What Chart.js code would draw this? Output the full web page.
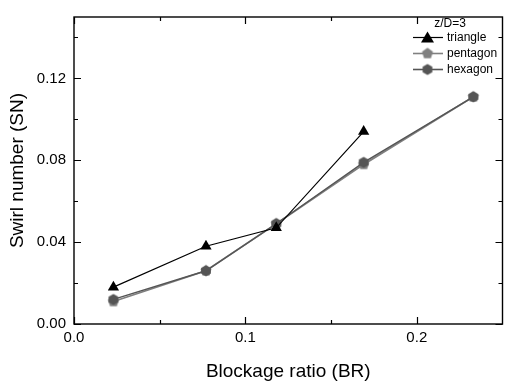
<!DOCTYPE html>
<html><head><meta charset="utf-8">
<script src="https://cdn.jsdelivr.net/npm/chart.js@4/dist/chart.umd.min.js"></script>
<style>html,body{margin:0;padding:0;background:#fff;}#wrap{width:509px;height:383px;}</style>
</head><body><div id="wrap"><canvas id="c" width="509" height="383"></canvas></div>
<script>
// Data
const triangleBR = [0.023, 0.077, 0.118, 0.169];
const triangleSN = [0.018, 0.038, 0.047, 0.094];
const pentagonBR = [0.023, 0.077, 0.118, 0.169, 0.233];
const pentagonSN = [0.011, 0.026, 0.049, 0.078, 0.111];
const hexagonBR = [0.023, 0.077, 0.118, 0.169, 0.233];
const hexagonSN = [0.012, 0.026, 0.049, 0.079, 0.111];
const xTicks = [0, 0.1, 0.2];
const xMinor = [0.05, 0.15];
const yTicks = [0, 0.04, 0.08, 0.12];
const yMinor = [0.02, 0.06, 0.10, 0.14];
const legendTitle = 'z/D=3';
const seriesNames = ['triangle', 'pentagon', 'hexagon'];

const FONT = '"Liberation Sans", Arial, sans-serif';
const colTri = '#000000', colPen = '#808080', colHex = '#555555';

function polyCanvas(n, r, color, rot) {
  const s = Math.ceil(r * 2 + 2);
  const cv = document.createElement('canvas');
  cv.width = s; cv.height = s;
  const g = cv.getContext('2d');
  g.fillStyle = color;
  g.beginPath();
  for (let i = 0; i < n; i++) {
    const a = rot + i * 2 * Math.PI / n;
    const px = s / 2 + r * Math.cos(a), py = s / 2 + r * Math.sin(a);
    i ? g.lineTo(px, py) : g.moveTo(px, py);
  }
  g.closePath(); g.fill();
  return cv;
}
const penImg = polyCanvas(5, 5.8, colPen, -Math.PI / 2);
const hexImg = polyCanvas(6, 5.6, colHex, -Math.PI / 2);

function pts(xs, ys) { return xs.map((x, i) => ({x: x, y: ys[i]})); }

function drawMarker(ctx, kind, x, y) {
  if (kind === 0) {
    ctx.fillStyle = colTri;
    ctx.beginPath();
    ctx.moveTo(x, y - 6); ctx.lineTo(x + 6.5, y + 5); ctx.lineTo(x - 6.5, y + 5);
    ctx.closePath(); ctx.fill();
  } else {
    const img = kind === 1 ? penImg : hexImg;
    ctx.drawImage(img, x - img.width / 2, y - img.height / 2);
  }
}

const framePlugin = {
  id: 'frame',
  afterDatasetsDraw(chart) {
    const ctx = chart.ctx, a = chart.chartArea;
    const xs = chart.scales.x, ys = chart.scales.y;
    ctx.save();
    ctx.strokeStyle = '#000'; ctx.lineWidth = 1.4;
    ctx.strokeRect(a.left, a.top, a.right - a.left, a.bottom - a.top);
    ctx.lineWidth = 1.2;
    ctx.beginPath();
    const tx = (v, len) => {
      const p = Math.round(xs.getPixelForValue(v)) + 0.5;
      ctx.moveTo(p, a.bottom); ctx.lineTo(p, a.bottom - len);
      ctx.moveTo(p, a.top); ctx.lineTo(p, a.top + len);
    };
    const ty = (v, len) => {
      const p = Math.round(ys.getPixelForValue(v)) + 0.5;
      ctx.moveTo(a.left, p); ctx.lineTo(a.left + len, p);
      ctx.moveTo(a.right, p); ctx.lineTo(a.right - len, p);
    };
    xTicks.forEach(v => tx(v, 7)); xMinor.forEach(v => tx(v, 4));
    yTicks.forEach(v => ty(v, 7)); yMinor.forEach(v => ty(v, 4));
    ctx.stroke();

    // legend
    ctx.fillStyle = '#000';
    ctx.font = '12px ' + FONT;
    ctx.textAlign = 'center'; ctx.textBaseline = 'middle';
    ctx.fillText(legendTitle, 450, 24);
    const rows = [37, 53, 69];
    const cols = [colTri, colPen, colHex];
    ctx.textAlign = 'left';
    rows.forEach((ry, i) => {
      ctx.strokeStyle = cols[i]; ctx.lineWidth = i === 0 ? 1.2 : 1.6;
      ctx.beginPath(); ctx.moveTo(413, ry + 0.5); ctx.lineTo(443, ry + 0.5); ctx.stroke();
      drawMarker(ctx, i, 427.5, ry + 0.5);
      ctx.fillStyle = '#000';
      ctx.fillText(seriesNames[i], 447, ry + 1);
    });
    ctx.restore();
  }
};

new Chart(document.getElementById('c'), {
  type: 'scatter',
  data: {
    datasets: [
      {label: seriesNames[0], data: pts(triangleBR, triangleSN), showLine: true,
       borderColor: colTri, backgroundColor: colTri, borderWidth: 1.2,
       pointStyle: 'triangle', pointRadius: 6.5, pointBorderWidth: 0, order: 0},
      {label: seriesNames[1], data: pts(pentagonBR, pentagonSN), showLine: true,
       borderColor: colPen, backgroundColor: colPen, borderWidth: 1.8,
       pointStyle: penImg, order: 2},
      {label: seriesNames[2], data: pts(hexagonBR, hexagonSN), showLine: true,
       borderColor: colHex, backgroundColor: colHex, borderWidth: 1.4,
       pointStyle: hexImg, order: 1}
    ]
  },
  options: {
    responsive: false, animation: false, devicePixelRatio: 1,
    layout: {padding: {left: 0, top: 6, right: 1, bottom: 0}},
    plugins: {legend: {display: false}, tooltip: {enabled: false}},
    scales: {
      x: {
        type: 'linear', min: 0, max: 0.25,
        afterBuildTicks: s => { s.ticks = xTicks.map(v => ({value: v})); },
        afterFit: s => { s.height = 59; },
        grid: {display: false, drawTicks: false},
        border: {display: false},
        ticks: {color: '#000', font: {family: FONT, size: 15}, padding: 5,
                maxRotation: 0, callback: v => v.toFixed(1)},
        title: {display: true, text: 'Blockage ratio (BR)', color: '#000',
                font: {family: FONT, size: 19}, padding: {top: 6, bottom: 0}}
      },
      y: {
        type: 'linear', min: 0, max: 0.15,
        afterBuildTicks: s => { s.ticks = yTicks.map(v => ({value: v})); },
        afterFit: s => { s.width = 74; },
        grid: {display: false, drawTicks: false},
        border: {display: false},
        ticks: {color: '#000', font: {family: FONT, size: 15}, padding: 8,
                callback: v => v.toFixed(2)},
        title: {display: true, text: 'Swirl number (SN)', color: '#000',
                font: {family: FONT, size: 19}, padding: {top: 6, bottom: 0}}
      }
    }
  },
  plugins: [framePlugin]
});
</script></body></html>
